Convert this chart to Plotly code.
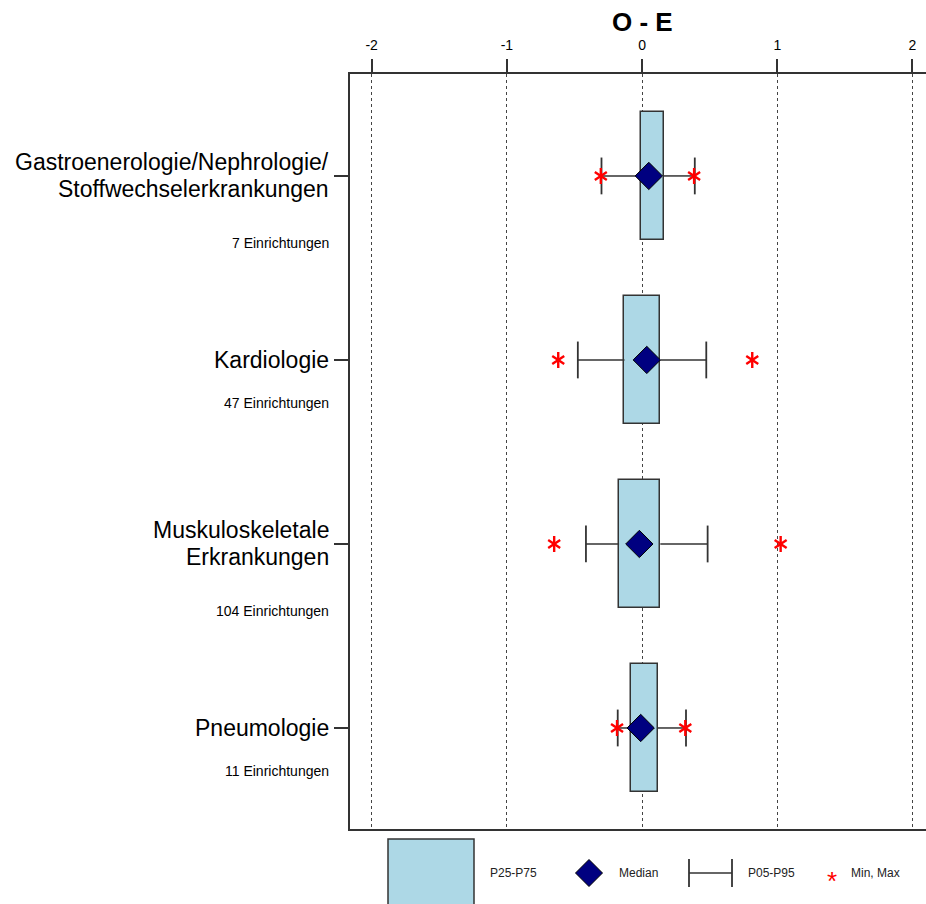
import plotly.graph_objects as go

# ---------------- data ----------------
categories = ["Gastroenerologie/Nephrologie/<br>Stoffwechselerkrankungen",
              "Kardiologie",
              "Muskuloskeletale<br>Erkrankungen",
              "Pneumologie"]
counts = [7, 47, 104, 11]
p25 = [-0.01, -0.13, -0.17, -0.08]
p75 = [0.16, 0.135, 0.135, 0.115]
median = [0.05, 0.035, -0.02, -0.01]
p05 = [-0.30, -0.475, -0.415, -0.18]
p95 = [0.39, 0.475, 0.485, 0.325]
vmin = [-0.305, -0.62, -0.65, -0.185]
vmax = [0.385, 0.815, 1.025, 0.32]
xticks = [-2, -1, 0, 1, 2]
legend_labels = ["P25-P75", "Median", "P05-P95", "Min, Max"]

FONT = "Liberation Sans, Arial, sans-serif"
DARK = "#333333"
BOXFILL = "#ADD8E6"
NAVY = "#000080"

ypos = list(range(len(categories)))
CAP = 0.1

fig = go.Figure()

# whiskers (drawn first, box covers the inner part)
wx, wy, cx, cy = [], [], [], []
for i, y in enumerate(ypos):
    wx += [p05[i], p25[i], None, p75[i], p95[i], None]
    wy += [y, y, None, y, y, None]
    cx += [p05[i], p05[i], None, p95[i], p95[i], None]
    cy += [y - CAP, y + CAP, None, y - CAP, y + CAP, None]
fig.add_trace(go.Scatter(x=wx, y=wy, mode="lines", line=dict(color=DARK, width=1.5),
                         hoverinfo="skip", cliponaxis=False))
fig.add_trace(go.Scatter(x=cx, y=cy, mode="lines", line=dict(color=DARK, width=1.8),
                         hoverinfo="skip", cliponaxis=False))

# boxes P25-P75
fig.add_trace(go.Bar(y=ypos, x=[b - a for a, b in zip(p25, p75)], base=p25,
                     orientation="h", width=0.70,
                     marker=dict(color=BOXFILL, line=dict(color=DARK, width=1.5))))

# min / max stars (6-armed asterisk from two Y symbols)
for sym in ["y-up-open", "y-down-open"]:
    fig.add_trace(go.Scatter(x=vmin + vmax, y=ypos + ypos, mode="markers",
                             marker=dict(symbol=sym, size=10, color="red",
                                         line=dict(color="red", width=2.4)),
                             cliponaxis=False))

# median diamonds
fig.add_trace(go.Scatter(x=median, y=ypos, mode="markers",
                         marker=dict(symbol="diamond", size=21, color=NAVY,
                                     line=dict(color="black", width=1)),
                         cliponaxis=False))

# ---------------- category labels ----------------
annotations = []
LBL_X = (331 - 350) / 576
for i, (cat, n) in enumerate(zip(categories, counts)):
    lines = cat.split("<br>")
    nl = len(lines)
    for j, line in enumerate(lines):
        off = (j - (nl - 1) / 2) * 27
        annotations.append(dict(x=LBL_X, xref="paper", y=ypos[i], yref="y",
                                text=line, showarrow=False, xanchor="right",
                                yanchor="middle", yshift=-off,
                                font=dict(family=FONT, size=23, color="black")))
    annotations.append(dict(x=LBL_X, xref="paper", y=ypos[i], yref="y",
                            text=f"{n} Einrichtungen", showarrow=False,
                            xanchor="right", yanchor="middle",
                            yshift=-(43 + 24 * (nl - 1)),
                            font=dict(family=FONT, size=14, color="black")))

# title
annotations.append(dict(x=0, xref="x", y=(829 - 22) / 755, yref="paper",
                        text="<b>O - E</b>", showarrow=False, xanchor="center",
                        yanchor="middle", font=dict(family=FONT, size=26, color="black")))

# ---------------- legend (below plot) ----------------
def px(x):
    return (x - 350) / 576


def py(y):
    return (829 - y) / 755


shapes = []
shapes.append(dict(type="rect", xref="paper", yref="paper",
                   x0=px(388), x1=px(474), y0=py(839), y1=py(915),
                   fillcolor=BOXFILL, line=dict(color=DARK, width=1.5)))
dcx, dcy, dr = 589, 873, 13.5
shapes.append(dict(type="path", xref="paper", yref="paper",
                   path=(f"M {px(dcx - dr)} {py(dcy)} L {px(dcx)} {py(dcy - dr)} "
                         f"L {px(dcx + dr)} {py(dcy)} L {px(dcx)} {py(dcy + dr)} Z"),
                   fillcolor=NAVY, line=dict(color="black", width=1)))
shapes.append(dict(type="line", xref="paper", yref="paper",
                   x0=px(689), x1=px(732), y0=py(873), y1=py(873),
                   line=dict(color=DARK, width=1.5)))
for xx in (689, 732):
    shapes.append(dict(type="line", xref="paper", yref="paper",
                       x0=px(xx), x1=px(xx), y0=py(859), y1=py(887),
                       line=dict(color=DARK, width=1.8)))

for lbl, lx in zip(legend_labels, [488, 617, 746, 849]):
    annotations.append(dict(x=px(lx), xref="paper", y=py(873), yref="paper",
                            text=lbl, showarrow=False, xanchor="left",
                            yanchor="middle",
                            font=dict(family=FONT, size=12, color="#222")))
annotations.append(dict(x=px(832), xref="paper", y=py(881), yref="paper",
                        text="*", showarrow=False, xanchor="center",
                        yanchor="middle",
                        font=dict(family=FONT, size=26, color="red")))

fig.update_layout(
    width=926, height=904,
    margin=dict(l=350, r=0, t=74, b=75),
    plot_bgcolor="white", paper_bgcolor="white",
    showlegend=False,
    font=dict(family=FONT, color="black"),
    annotations=annotations,
    shapes=shapes,
    bargap=0,
)
fig.update_xaxes(range=[-2.16, 2.10], side="top", tickvals=xticks,
                 ticktext=[str(t) for t in xticks],
                 ticks="outside", ticklen=13, tickwidth=1.5, tickcolor=DARK,
                 ticklabelstandoff=4,
                 tickfont=dict(family=FONT, size=14, color="black"),
                 showgrid=True, gridcolor="#444", gridwidth=1, griddash="3px,3px",
                 zeroline=False, showline=True, linecolor=DARK, linewidth=1.5,
                 mirror=True, fixedrange=True)
fig.update_yaxes(range=[3.549, -0.554], tickvals=ypos, showticklabels=False,
                 ticks="outside", ticklen=14, tickwidth=1.5, tickcolor=DARK,
                 showgrid=False, zeroline=False, showline=True, linecolor=DARK,
                 linewidth=1.5, mirror=False, fixedrange=True)

fig.write_html("out.html", config={"displayModeBar": False},
               post_script="document.body.style.margin='0';document.body.style.overflow='hidden';")
